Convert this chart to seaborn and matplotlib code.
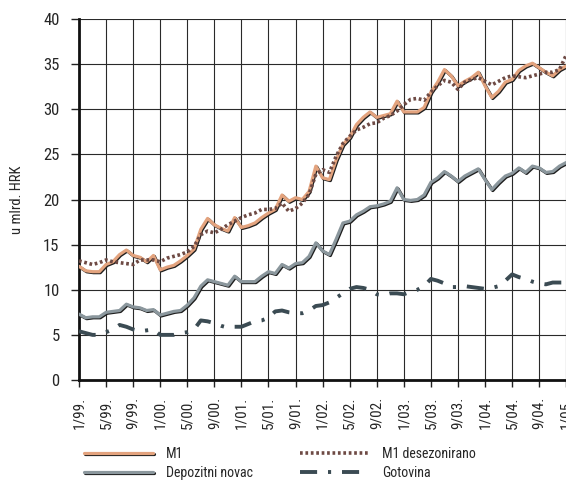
import numpy as np
import pandas as pd
import matplotlib
matplotlib.use('Agg')
import matplotlib.pyplot as plt
import matplotlib.patheffects as pe
import seaborn as sns

# monthly, 1/99 .. 1/05
tick_labels = ['1/99.', '5/99.', '9/99.', '1/00.', '5/00.', '9/00.', '1/01.', '5/01.', '9/01.',
               '1/02.', '5/02.', '9/02.', '1/03.', '5/03.', '9/03.', '1/04.', '5/04.', '9/04.', '1/05.']

m1 = [12.6, 12.1, 12.0, 12.0, 12.8, 13.1, 13.9, 14.4, 13.8, 13.6, 13.1, 13.8,
      12.2, 12.5, 12.7, 13.2, 13.8, 14.5, 16.7, 17.9, 17.2, 16.8, 16.5, 18.0,
      16.9, 17.1, 17.4, 18.0, 18.5, 18.9, 20.5, 19.8, 20.2, 20.0, 20.9, 23.7,
      22.4, 22.2, 24.4, 26.1, 26.9, 28.3, 29.1, 29.7, 29.1, 29.3, 29.5, 30.9,
      29.7, 29.7, 29.7, 30.2, 31.9, 33.0, 34.4, 33.7, 32.6, 33.1, 33.5, 34.1,
      32.6, 31.3, 32.0, 33.0, 33.3, 34.3, 34.8, 35.1, 34.6, 34.1, 33.7, 34.4, 34.8]

m1_sa = [13.2, 13.0, 12.8, 13.0, 13.3, 13.1, 13.0, 12.9, 12.8, 13.3, 13.3, 13.3,
         13.1, 13.5, 13.7, 13.9, 14.2, 14.8, 16.1, 16.5, 16.3, 16.7, 17.2, 17.6,
         18.0, 18.3, 18.5, 18.9, 18.9, 19.0, 19.6, 18.7, 19.0, 19.6, 20.6, 22.8,
         23.3, 23.0, 24.8, 26.2, 27.0, 27.7, 28.0, 28.4, 28.5, 29.0, 29.3, 29.8,
         30.5, 31.1, 31.2, 31.0, 31.9, 32.6, 33.2, 33.0, 32.2, 33.0, 33.3, 33.5,
         33.1, 32.7, 33.1, 33.5, 33.7, 33.6, 33.5, 33.7, 33.9, 34.1, 34.1, 34.4, 36.0]

depoziti = [7.3, 6.9, 7.0, 7.0, 7.5, 7.6, 7.7, 8.4, 8.1, 8.0, 7.7, 7.8,
            7.2, 7.4, 7.6, 7.7, 8.3, 9.1, 10.4, 11.1, 10.9, 10.7, 10.5, 11.5,
            10.9, 10.9, 10.9, 11.5, 12.0, 11.8, 12.8, 12.4, 12.9, 13.0, 13.7, 15.2,
            14.3, 13.9, 15.6, 17.4, 17.6, 18.3, 18.7, 19.2, 19.3, 19.5, 19.8, 21.3,
            20.0, 19.9, 20.0, 20.5, 21.9, 22.4, 23.1, 22.6, 22.0, 22.6, 23.0, 23.4,
            22.2, 21.1, 21.9, 22.6, 22.9, 23.5, 23.0, 23.7, 23.5, 23.0, 23.1, 23.7, 24.1]

gotovina = [5.4, 5.2, 5.0, 5.0, 5.3, 5.6, 6.1, 5.9, 5.6, 5.4, 5.5, 5.6,
            5.0, 5.0, 5.0, 5.2, 5.3, 5.6, 6.6, 6.5, 6.3, 6.0, 5.8, 5.9,
            5.9, 6.2, 6.5, 6.6, 6.9, 7.6, 7.7, 7.5, 7.4, 7.4, 7.7, 8.2,
            8.3, 8.6, 9.1, 9.6, 10.1, 10.3, 10.2, 10.0, 9.5, 9.4, 9.6, 9.6,
            9.5, 9.8, 10.0, 10.4, 11.2, 11.0, 10.7, 10.3, 10.3, 10.4, 10.3, 10.2,
            10.1, 10.2, 10.4, 11.0, 11.7, 11.4, 11.2, 10.9, 10.7, 10.6, 10.8, 10.8, 10.8]

months = np.arange(len(m1))
df = pd.DataFrame({'mj': months, 'M1': m1, 'M1 desezonirano': m1_sa,
                   'Depozitni novac': depoziti, 'Gotovina': gotovina})

sns.set_style('white')
plt.rcParams['font.family'] = ['Roboto Condensed', 'Liberation Sans Narrow', 'Roboto', 'DejaVu Sans']

fig = plt.figure(figsize=(5.66, 4.82), dpi=100)
ax = fig.add_axes([79 / 566, 1 - 380 / 482, 1 - 79 / 566 + 0.01, 361 / 482])

shadow = [pe.SimpleLineShadow(offset=(0.7, -0.7), shadow_color='#1e1e1e', alpha=1), pe.Normal()]

sns.lineplot(data=df, x='mj', y='M1', ax=ax, color='#E3A37E', lw=2.3, label='M1',
             path_effects=shadow, zorder=5)
sns.lineplot(data=df, x='mj', y='M1 desezonirano', ax=ax, color='#6E4A44', lw=2.6,
             label='M1 desezonirano', dashes=(0.75, 0.75), zorder=6)
sns.lineplot(data=df, x='mj', y='Depozitni novac', ax=ax, color='#8B979D', lw=2.3,
             label='Depozitni novac', path_effects=shadow, zorder=5)
sns.lineplot(data=df, x='mj', y='Gotovina', ax=ax, color='#3B4B53', lw=2.8,
             label='Gotovina', dashes=(4.4, 2.8, 0.8, 2.8), zorder=5)

ax.set_xlim(0, 72.8)
ax.set_ylim(0, 40)
ax.set_xticks(np.arange(0, 73, 4))
ax.set_xticklabels(tick_labels, rotation=90, fontsize=11)
ax.set_yticks(np.arange(0, 41, 5))
ax.tick_params(axis='y', labelsize=12, length=6, width=1, color='#222', pad=8, direction='out')
ax.tick_params(axis='x', length=5, width=1, color='#222', pad=7, direction='out', bottom=True)
ax.tick_params(left=True)
ax.grid(True, color='#2a2a2a', lw=0.8)
ax.set_axisbelow(True)
ax.set_xlabel('')
ax.set_ylabel('u mlrd. HRK', fontsize=10.5, labelpad=14)
for s in ['top', 'right']:
    ax.spines[s].set_visible(False)
for s in ['left', 'bottom']:
    ax.spines[s].set_color('#111')
    ax.spines[s].set_linewidth(2)

handles, labels = ax.get_legend_handles_labels()
ax.legend_.remove()
order = [0, 2, 1, 3]
fig.legend([handles[i] for i in order], [labels[i] for i in order], ncol=2,
           loc='upper left', bbox_to_anchor=(78 / 566, 1 - 441 / 482), frameon=False,
           fontsize=10, handlelength=5.0, handletextpad=0.9, columnspacing=3.4,
           labelspacing=0.4, borderaxespad=0)

fig.savefig('out.png', dpi=100)
